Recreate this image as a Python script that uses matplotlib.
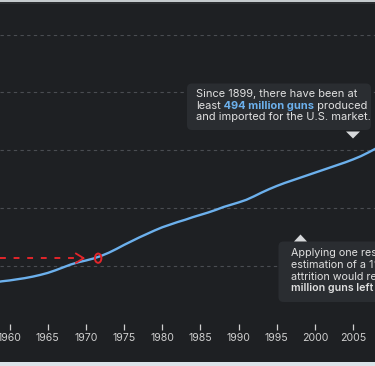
import matplotlib
matplotlib.use('Agg')
import matplotlib.pyplot as plt
from matplotlib.patches import FancyBboxPatch, Polygon, Rectangle, Ellipse

# cumulative guns produced + imported for the U.S. market (millions)
years = list(range(1958, 2009))
guns_millions = [71, 73, 74.5, 76.5, 78.5, 81, 84, 87.5, 92, 97,
                 102, 106, 109, 112.5, 117, 122.5, 129, 136, 142.5, 149,
                 155, 161, 166.5, 171, 175.5, 179.5, 184, 188, 192, 196.5,
                 201.5, 205.5, 209.5, 214, 220, 226.5, 232.5, 238, 243, 247.5,
                 252, 256.5, 261, 265.5, 270, 274.5, 279, 284, 289.5, 296,
                 303]
grid_values = [100, 200, 300, 400, 500]
tick_years = [1960, 1965, 1970, 1975, 1980, 1985, 1990, 1995, 2000, 2005]

# red hand-drawn marker
mark_year = 1971.6
mark_value = 113
arrow_from, arrow_to = 1958.75, 1969.7

BG = '#1e2023'
BOX = '#2a2d31'
TXT = '#e0e0e0'
BLUE = '#6cb0ec'
RED = '#e3262b'

plt.rcParams['font.family'] = ['Inter', 'DejaVu Sans']

W, H = 375, 366
fig = plt.figure(figsize=(W / 100, H / 100), dpi=100)
fig.patch.set_facecolor(BG)

ax = fig.add_axes([0, 42.5 / H, 1, 289 / H])
ax.set_facecolor(BG)
ax.plot(years, guns_millions, color=BLUE, lw=1.7, solid_capstyle='round', zorder=3)
ax.set_xlim(1958.75, 2007.85)
ax.set_ylim(0, 500)
ax.set_yticks(grid_values)
ax.yaxis.grid(True, color='#4a4d52', linestyle=(0, (3, 3)), lw=0.8)
ax.tick_params(axis='y', length=0, labelleft=False)
ax.set_xticks(tick_years)
ax.tick_params(axis='x', length=4, width=0.9, color='#cfcfcf', labelcolor='#cfcfcf',
               labelsize=7.6, pad=2.5)
for s in ax.spines.values():
    s.set_visible(False)

# red dashed arrow + circle
ax.plot([arrow_from, arrow_to], [mark_value, mark_value], color=RED, lw=1.4,
        linestyle=(0, (3, 4)), zorder=4)
ax.plot([arrow_to - 1.0, arrow_to, arrow_to - 1.0],
        [mark_value + 8, mark_value, mark_value - 8], color=RED, lw=1.3, zorder=4)
ax.add_patch(Ellipse((mark_year, mark_value), 0.85, 16, fill=False, ec=RED, lw=1.4, zorder=5))

# overlay in pixel coordinates for the callouts and frame
ov = fig.add_axes([0, 0, 1, 1])
ov.set_xlim(0, W)
ov.set_ylim(H, 0)
ov.axis('off')
ov.patch.set_alpha(0)

ov.add_patch(Rectangle((0, 0), W, 2.2, color='#c5cacd', lw=0))
ov.add_patch(Rectangle((0, 2.2), W, 2, color='#2b2d30', lw=0))
ov.add_patch(Rectangle((0, 361.5), W, 5, color='#dbe3e8', lw=0))

# callout 1
ov.add_patch(FancyBboxPatch((187, 83.5), 184, 46.5, boxstyle='round,pad=0,rounding_size=5',
                            fc=BOX, ec='none'))
ov.add_patch(Polygon([(346, 131.5), (360, 131.5), (353, 138.5)], closed=True,
                     fc='#d6d8da', ec='none'))
fs = 7.95
ov.text(196.5, 94.3, 'Since 1899, there have been at', color=TXT, fontsize=fs, va='center')
t = ov.text(196.5, 106, 'least', color=TXT, fontsize=fs, va='center')
t = ov.annotate(' 494 million guns', xy=(1, 0), xycoords=t, va='bottom', color=BLUE,
                fontsize=fs, fontweight='bold')
ov.annotate(' produced', xy=(1, 0), xycoords=t, va='bottom', color=TXT, fontsize=fs)
ov.text(196.5, 117.5, 'and imported for the U.S. market.', color=TXT, fontsize=fs, va='center')

# callout 2 (runs off the right edge, as in the source)
ov.add_patch(FancyBboxPatch((278.5, 241.5), 130, 60.5, boxstyle='round,pad=0,rounding_size=5',
                            fc=BOX, ec='none'))
ov.add_patch(Polygon([(294, 241.5), (307, 241.5), (300.5, 234.5)], closed=True,
                     fc='#d6d8da', ec='none'))
ov.text(291, 253.3, "Applying one researcher's", color=TXT, fontsize=fs - 0.2, va='center')
ov.text(291, 264.8, 'estimation of a 1% annual', color=TXT, fontsize=fs - 0.2, va='center')
ov.text(291, 276.6, 'attrition would result in', color=TXT, fontsize=fs - 0.2, va='center')
ov.text(291, 288.2, 'million guns left', color=TXT, fontsize=fs - 0.3, va='center',
        fontweight='semibold')

fig.savefig('out.png', dpi=100, facecolor=BG)
